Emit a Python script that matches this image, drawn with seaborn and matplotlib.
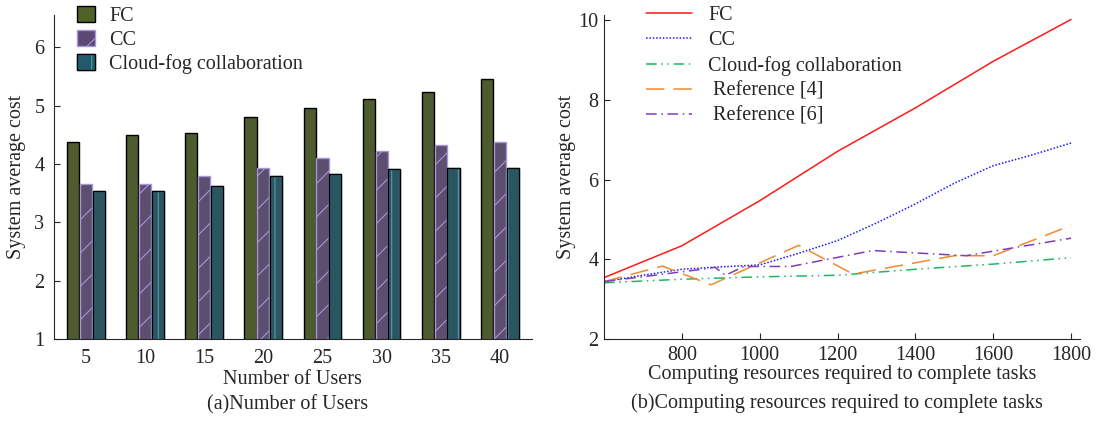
import numpy as np
import pandas as pd
import matplotlib
matplotlib.use("Agg")
import matplotlib.pyplot as plt
from matplotlib.patches import Patch, Rectangle
import seaborn as sns

# =============================================================================
# data
# =============================================================================
users = [5, 10, 15, 20, 25, 30, 35, 40]
schemes = ["FC", "CC", "Cloud-fog collaboration"]
fc_cost = [4.38, 4.49, 4.53, 4.80, 4.96, 5.11, 5.23, 5.46]
cc_cost = [3.66, 3.66, 3.79, 3.93, 4.11, 4.23, 4.33, 4.38]
cfc_cost = [3.54, 3.54, 3.63, 3.80, 3.83, 3.91, 3.93, 3.93]

res_fc = [600, 800, 1000, 1200, 1400, 1600, 1800]
fc_line = [3.54, 4.34, 5.47, 6.71, 7.80, 8.97, 10.02]
res_cc = [600, 700, 800, 900, 1000, 1100, 1200, 1300, 1400, 1500, 1600, 1700, 1800]
cc_line = [3.44, 3.60, 3.75, 3.81, 3.86, 4.15, 4.47, 4.91, 5.39, 5.91, 6.35, 6.62, 6.92]
res_cfc = [600, 800, 1000, 1200, 1400, 1600, 1800]
cfc_line = [3.41, 3.50, 3.56, 3.60, 3.75, 3.88, 4.04]
res_ref4 = [600, 750, 875, 1100, 1240, 1500, 1600, 1800]
ref4_line = [3.44, 3.83, 3.36, 4.35, 3.63, 4.09, 4.09, 4.85]
res_ref6 = [600, 860, 885, 912, 960, 1080, 1290, 1530, 1800]
ref6_line = [3.44, 3.76, 3.80, 3.60, 3.82, 3.82, 4.22, 4.09, 4.53]

# =============================================================================
# style
# =============================================================================
sns.set_style("ticks")
plt.rcParams["font.family"] = ["Liberation Serif", "DejaVu Serif"]
plt.rcParams["font.size"] = 14.5
plt.rcParams["hatch.linewidth"] = 0.8

fig = plt.figure(figsize=(10.96, 4.21), dpi=100)
ax1 = fig.add_axes([0.0493, 0.1948, 0.4359, 0.7703])
ax2 = fig.add_axes([0.5511, 0.1948, 0.4343, 0.7703])

# =============================================================================
# (a) bars
# =============================================================================
bar_df = pd.DataFrame({
    "users": users * 3,
    "scheme": [s for s in schemes for _ in users],
    "cost": fc_cost + cc_cost + cfc_cost,
})
bar_colors = ["#4f6228", "#5b4874", "#215a6a"]
sns.barplot(data=bar_df, x="users", y="cost", hue="scheme", palette=bar_colors,
            width=0.65, gap=0.05, edgecolor="black", linewidth=1,
            legend=False, ax=ax1)

cc_bars = ax1.containers[1]
for p in cc_bars:
    p.set_hatch("/")
    p.set_edgecolor("#a994d4")

cfc_bars = ax1.containers[2]
for p in cfc_bars:
    p.set_hatch("|")
    p.set_edgecolor("#4f9cb0")
    ax1.add_patch(Rectangle(p.get_xy(), p.get_width(), p.get_height(),
                            fill=False, edgecolor="black", linewidth=1))

ax1.set_ylim(1, 6.56)
ax1.set_xlim(-0.54, 7.54)
ax1.set_yticks([1, 2, 3, 4, 5, 6])
ax1.tick_params(axis="y", direction="in", length=4, pad=7)
ax1.tick_params(axis="x", length=0, pad=7)
ax1.set_xlabel("Number of Users", labelpad=2)
ax1.set_ylabel("System average cost", labelpad=6)
sns.despine(ax=ax1)

leg_handles = [
    Patch(facecolor=bar_colors[0], edgecolor="black"),
    Patch(facecolor=bar_colors[1], edgecolor="#a994d4", hatch="/"),
    (Patch(facecolor=bar_colors[2], edgecolor="#4f9cb0", hatch="|"),
     Patch(facecolor="none", edgecolor="black")),
]
ax1.legend(leg_handles, schemes, loc="upper left",
           bbox_to_anchor=(77 / 1096, 1 - 6 / 421), bbox_transform=fig.transFigure,
           frameon=False, borderpad=0, borderaxespad=0, labelspacing=0.2,
           handlelength=0.9, handleheight=0.85, handletextpad=0.7)

# =============================================================================
# (b) lines
# =============================================================================
lines = [
    (res_fc, fc_line, "FC", "#ff1a1a", "-"),
    (res_cc, cc_line, "CC", "#1a1aff", (0, (1, 1.2))),
    (res_cfc, cfc_line, "Cloud-fog collaboration", "#1fb860", (0, (7, 3, 1, 3, 1, 3))),
    (res_ref4, ref4_line, " Reference [4]", "#f08a30", (0, (12, 6))),
    (res_ref6, ref6_line, " Reference [6]", "#7d3fb8", (0, (7, 3, 1, 3))),
]
for xs, ys, lab, col, ls in lines:
    sns.lineplot(x=xs, y=ys, color=col, linestyle=ls, linewidth=1.1,
                 label=lab, ax=ax2)

ax2.set_xlim(600, 1823)
ax2.set_ylim(2, 10.14)
ax2.set_xticks([800, 1000, 1200, 1400, 1600, 1800])
ax2.set_yticks([2, 4, 6, 8, 10])
ax2.tick_params(axis="both", direction="in", length=4)
ax2.tick_params(axis="x", pad=5)
ax2.tick_params(axis="y", pad=4)
ax2.set_xlabel("Computing resources required to complete tasks", labelpad=0)
ax2.set_ylabel("System average cost", labelpad=2)
sns.despine(ax=ax2)
ax2.legend(loc="upper left", bbox_to_anchor=(646 / 1096, 1 - 6 / 421),
           bbox_transform=fig.transFigure, frameon=False, borderpad=0,
           borderaxespad=0, labelspacing=0.29, handlelength=2.3, handletextpad=0.8)

fig.text(288 / 1096, 1 - 405 / 421, "(a)Number of Users", ha="center", va="center")
fig.text(837 / 1096, 1 - 403 / 421, "(b)Computing resources required to complete tasks",
         ha="center", va="center")

fig.savefig("out.png", dpi=100)
